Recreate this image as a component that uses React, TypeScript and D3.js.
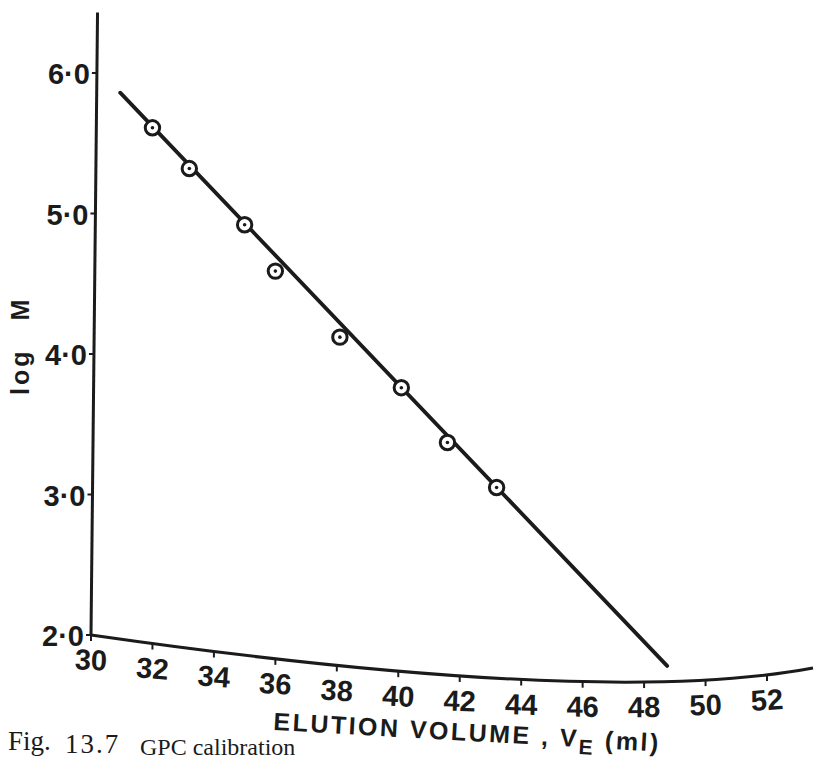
import React, { useEffect, useRef } from 'react';
import * as d3 from 'd3';

// calibration standards
const volume = [32.0, 33.2, 35.0, 36.0, 38.1, 40.1, 41.6, 43.2];
const logM = [5.61, 5.32, 4.92, 4.59, 4.12, 3.76, 3.37, 3.05];

// ends of the drawn calibration line
const fitVolume = [30.95, 48.75];
const fitLogM = [5.86, 1.78];

const xTicks = [30, 32, 34, 36, 38, 40, 42, 44, 46, 48, 50, 52];
const yTicks = [2, 3, 4, 5, 6];

const App = () => {
  const chartRef = useRef<SVGSVGElement>(null);

  useEffect(() => {
    document.body.style.margin = '0';
    const width = 822;
    const height = 763;
    const ink = '#1b1b1b';
    const sans = '"Liberation Sans", Arial, sans-serif';
    const serif = '"Liberation Serif", "Times New Roman", serif';

    const svg = d3.select(chartRef.current);
    svg.selectAll('*').remove();
    svg.attr('width', width).attr('height', height);

    // Scales
    const x = d3.scaleLinear().domain([30, 52]).range([91, 767]);
    const y = d3.scaleLinear().domain([2, 6]).range([635, 73]);

    // The scanned page is bent: the x axis sags and the y axis leans a little
    const p0 = [x(30), y(2)];
    const p1 = [600, 708];
    const p2 = [813, 668];
    const bez = (t: number) => {
      const a = (1 - t) * (1 - t), b = 2 * t * (1 - t), c = t * t;
      return [a * p0[0] + b * p1[0] + c * p2[0], a * p0[1] + b * p1[1] + c * p2[1]];
    };
    const sag = (px: number) => {
      let lo = 0, hi = 1;
      for (let i = 0; i < 40; i++) {
        const mid = (lo + hi) / 2;
        if (bez(mid)[0] < px) lo = mid;
        else hi = mid;
      }
      return bez((lo + hi) / 2)[1];
    };
    const lean = (py: number) => x(30) + (y(2) - py) * 0.0105;

    // Y axis
    const yTop = y(6.43);
    svg.append('line')
      .attr('x1', lean(y(2))).attr('y1', y(2))
      .attr('x2', lean(yTop)).attr('y2', yTop)
      .attr('stroke', ink).attr('stroke-width', 3);

    const yt = svg.append('g');
    yTicks.forEach((v) => {
      const py = y(v);
      const ax = lean(py);
      yt.append('line')
        .attr('x1', ax - 5).attr('x2', ax).attr('y1', py).attr('y2', py)
        .attr('stroke', ink).attr('stroke-width', 2);
      yt.append('text')
        .attr('x', ax - 7).attr('y', py + 1)
        .attr('text-anchor', 'end')
        .attr('dominant-baseline', 'central')
        .attr('font-family', sans).attr('font-weight', 'bold').attr('font-size', 29)
        .attr('fill', ink)
        .text(v.toFixed(1).replace('.', '·'));
    });

    // X axis (curved)
    const path = d3.path();
    path.moveTo(p0[0], p0[1]);
    path.quadraticCurveTo(p1[0], p1[1], p2[0], p2[1]);
    svg.append('path')
      .attr('d', path.toString())
      .attr('fill', 'none').attr('stroke', ink).attr('stroke-width', 3);

    const xt = svg.append('g');
    xTicks.forEach((v) => {
      const px = x(v);
      const py = sag(px);
      const ang = (Math.atan((sag(px + 2) - sag(px - 2)) / 4) * 180) / Math.PI;
      xt.append('line')
        .attr('x1', px).attr('x2', px).attr('y1', py).attr('y2', py + 6)
        .attr('stroke', ink).attr('stroke-width', 2);
      xt.append('text')
        .attr('transform', `translate(${px},${py + 25}) rotate(${ang * 0.6})`)
        .attr('text-anchor', 'middle')
        .attr('dominant-baseline', 'central')
        .attr('font-family', sans).attr('font-weight', 'bold').attr('font-size', 29)
        .attr('fill', ink)
        .text(v);
    });

    // Calibration line
    const line = d3.line<number>()
      .x((d) => x(d))
      .y((d, i) => y(fitLogM[i]));
    svg.append('path')
      .attr('d', line(fitVolume))
      .attr('fill', 'none').attr('stroke', ink)
      .attr('stroke-width', 3.8).attr('stroke-linecap', 'round');

    // Points
    const pts = svg.append('g');
    volume.forEach((v, i) => {
      pts.append('circle')
        .attr('cx', x(v)).attr('cy', y(logM[i])).attr('r', 7.2)
        .attr('fill', '#fff').attr('stroke', ink).attr('stroke-width', 3);
      pts.append('circle')
        .attr('cx', x(v)).attr('cy', y(logM[i])).attr('r', 1.8)
        .attr('fill', ink);
    });

    // Axis titles
    svg.append('text')
      .attr('transform', `translate(29,${(y(4) + y(5)) / 2 + 62}) rotate(-90)`)
      .attr('text-anchor', 'middle')
      .attr('font-family', sans).attr('font-weight', 'bold').attr('font-size', 25)
      .attr('letter-spacing', 3).attr('word-spacing', 18)
      .attr('fill', ink)
      .text('log M');

    const xl = svg.append('text')
      .attr('transform', 'translate(273,730) rotate(3.2)')
      .attr('font-family', sans).attr('font-weight', 'bold').attr('font-size', 25)
      .attr('letter-spacing', 2.5)
      .attr('fill', ink);
    xl.append('tspan').text('ELUTION VOLUME , V');
    xl.append('tspan').attr('font-size', 21).attr('dy', 7).text('E');
    xl.append('tspan').attr('dy', -7).text('\u00a0(ml)');

    // Caption at the page edge
    svg.append('text')
      .attr('x', 8).attr('y', 750)
      .attr('font-family', serif).attr('font-size', 27)
      .attr('fill', ink)
      .text('Fig.');
    svg.append('text')
      .attr('x', 65).attr('y', 753)
      .attr('font-family', serif).attr('font-size', 27).attr('letter-spacing', 2)
      .attr('fill', ink)
      .text('13.7');
    svg.append('text')
      .attr('x', 140).attr('y', 755)
      .attr('font-family', serif).attr('font-size', 24)
      .attr('fill', ink)
      .text('GPC calibration');

    return () => {
      d3.select(chartRef.current).selectAll('*').remove();
    };
  }, []);

  return <svg ref={chartRef} style={{ display: 'block', background: '#fff' }} />;
};

export default App;
